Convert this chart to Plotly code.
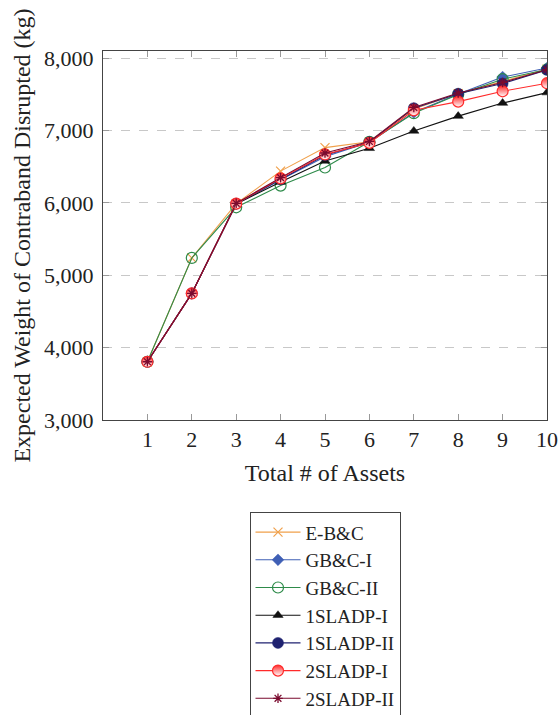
import plotly.graph_objects as go

assets = [1, 2, 3, 4, 5, 6, 7, 8, 9, 10]

ebc = [3805, 5240, 5990, 6440, 6765, 6845, 7300, 7510, 7680, 7850]
gbc1 = [3805, 4750, 5985, 6320, 6640, 6840, 7250, 7505, 7740, 7865]
gbc2 = [3805, 5240, 5940, 6240, 6490, 6845, 7240, 7500, 7710, 7845]
sladp1_1 = [3805, 4750, 5985, 6290, 6580, 6755, 6995, 7200, 7380, 7525]
sladp1_2 = [3805, 4750, 5990, 6330, 6660, 6840, 7310, 7510, 7650, 7840]
sladp2_1 = [3805, 4750, 5990, 6340, 6670, 6830, 7280, 7400, 7543, 7655]
sladp2_2 = [3805, 4750, 5995, 6350, 6690, 6850, 7320, 7520, 7665, 7842]

series_names = ["E-B&C", "GB&C-I", "GB&C-II", "1SLADP-I", "1SLADP-II", "2SLADP-I", "2SLADP-II"]
y_ticks = [3000, 4000, 5000, 6000, 7000, 8000]
y_tick_text = ["3,000", "4,000", "5,000", "6,000", "7,000", "8,000"]

FONT = "Liberation Serif"

styles = [
    dict(color="#F0A04B", symbol="x-thin-open", size=9, mline=dict(color="#F0A04B", width=1.2)),
    dict(color="#3F5FB5", symbol="diamond", size=9, mline=dict(color="#3F5FB5", width=0.5)),
    dict(color="#2E8B4A", symbol="circle-open", size=11, mline=dict(color="#2E8B4A", width=1.2)),
    dict(color="#111111", symbol="triangle-up", size=9, mline=dict(color="#111111", width=0.5)),
    dict(color="#1F2270", symbol="circle", size=11, mline=dict(color="#1F2270", width=0.5)),
    dict(color="#FF2A2A", symbol="circle", size=11, mline=dict(color="#FF2A2A", width=1.2)),
    dict(color="#7A0A2E", symbol="asterisk-open", size=8, mline=dict(color="#7A0A2E", width=1.3)),
]
data = [ebc, gbc1, gbc2, sladp1_1, sladp1_2, sladp2_1, sladp2_2]

fig = go.Figure()
for name, ys, st in zip(series_names, data, styles):
    marker = dict(symbol=st["symbol"], size=st["size"], color=st["color"], line=st["mline"])
    if name == "2SLADP-I":
        marker["gradient"] = dict(type="vertical", color="white")
    fig.add_trace(go.Scatter(
        x=assets, y=ys, mode="lines+markers", name=name,
        line=dict(color=st["color"], width=1.1),
        marker=marker,
    ))

fig.update_layout(
    width=559, height=715,
    margin=dict(l=103, r=12, t=51, b=295, autoexpand=False),
    paper_bgcolor="white", plot_bgcolor="white",
    font=dict(family=FONT, size=22, color="#222222"),
    showlegend=True,
    legend=dict(
        x=0.5, xanchor="center", y=-0.250, yanchor="top",
        bgcolor="white", bordercolor="#444444", borderwidth=1,
        font=dict(family=FONT, size=19, color="#222222"),
        itemwidth=45,
        tracegroupgap=0,
    ),
)

fig.update_xaxes(
    range=[0, 10], tickvals=assets, ticktext=[str(a) for a in assets],
    showgrid=False, zeroline=False,
    showline=True, linecolor="#444444", linewidth=1, mirror="ticks",
    ticks="inside", ticklen=6, tickcolor="#999999",
    title=dict(text="Total # of Assets", font=dict(family=FONT, size=24), standoff=12),
    tickfont=dict(family=FONT, size=22),
)
fig.update_yaxes(
    range=[3000, 8100], tickvals=y_ticks, ticktext=y_tick_text,
    showgrid=True, gridcolor="#C8C8C8", griddash="dash", gridwidth=1, zeroline=False,
    showline=True, linecolor="#444444", linewidth=1, mirror="ticks",
    ticks="inside", ticklen=6, tickcolor="#999999", ticklabelstandoff=4,
    title=dict(text="Expected Weight of Contraband Disrupted (kg)", font=dict(family=FONT, size=24), standoff=6),
    tickfont=dict(family=FONT, size=22),
)

fig.write_html("out.html")
